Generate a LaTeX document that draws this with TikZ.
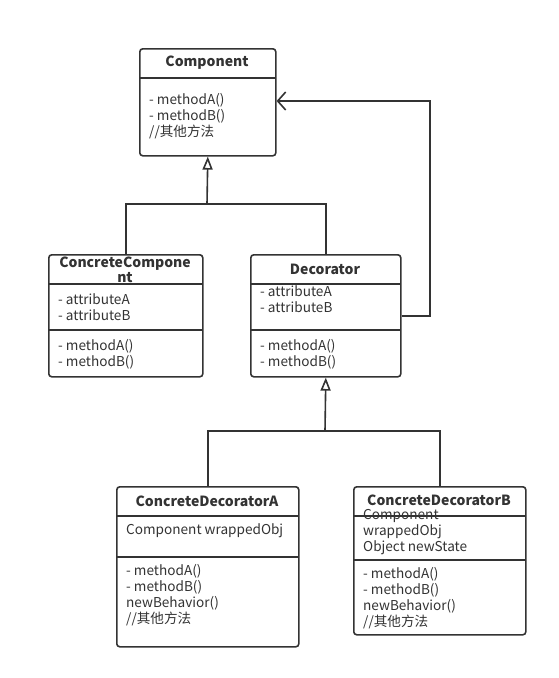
\documentclass[tikz,border=0pt]{standalone}
\usepackage{fontspec}
\setmainfont{Noto Sans CJK SC}
\usetikzlibrary{arrows.meta}
\definecolor{ln}{HTML}{333333}
\begin{document}
\begin{tikzpicture}[x=1pt,y=-1pt,
  umlbox/.style={draw=ln, line width=1.6pt, rounded corners=3pt, inner sep=0pt, anchor=north west},
  divider/.style={draw=ln, line width=1.6pt},
  conn/.style={draw=ln, line width=1.6pt},
  hdr/.style={font=\fontsize{14}{15}\selectfont\bfseries, text=ln, inner sep=0pt, align=center},
  txt/.style={font=\fontsize{13.6}{16}\selectfont, text=ln, inner sep=0pt, anchor=west, align=left},
  inh/.style={conn, -{Triangle[open, length=13pt, width=10pt, line width=1.6pt]}},
  assoc/.style={conn, -{Straight Barb[length=8pt, width=18pt, line width=1.6pt]}}
]
\path[use as bounding box] (0,0) rectangle (558,678);
\fill[white] (0,0) rectangle (558,678);

% Component
\node[umlbox, minimum width=136pt, minimum height=107pt] (comp) at (139,48) {};
\draw[divider] (139,78) -- (275,78);
\node[hdr] (compT) at (207,63) {Component};
\node[txt] (compM) at (149,116) {- methodA()\\- methodB()\\//其他方法};

% ConcreteComponent
\node[umlbox, minimum width=154pt, minimum height=122pt] (cc) at (48,254) {};
\draw[divider] (48,284) -- (202,284);
\draw[divider] (48,330) -- (202,330);
\node[hdr] (ccT) at (125,269.5) {ConcreteCompone\\nt};
\node[txt] (ccA) at (58,307) {- attributeA\\- attributeB};
\node[txt] (ccM) at (58,354) {- methodA()\\- methodB()};

% Decorator
\node[umlbox, minimum width=150pt, minimum height=122pt] (dec) at (250,254) {};
\draw[divider] (250,284) -- (400,284);
\draw[divider] (250,330) -- (400,330);
\node[hdr] (decT) at (325,269) {Decorator};
\node[txt] (decA) at (260,299.5) {- attributeA\\- attributeB};
\node[txt] (decM) at (260,354) {- methodA()\\- methodB()};

% ConcreteDecoratorA
\node[umlbox, minimum width=182pt, minimum height=160pt] (cda) at (116,486) {};
\draw[divider] (116,516) -- (298,516);
\draw[divider] (116,557) -- (298,557);
\node[hdr] (cdaT) at (207,501) {ConcreteDecoratorA};
\node[txt] (cdaA) at (126,531) {Component wrappedObj};
\node[txt] (cdaM) at (126,595) {- methodA()\\- methodB()\\newBehavior()\\//其他方法};

% ConcreteDecoratorB
\node[umlbox, minimum width=172pt, minimum height=148pt] (cdb) at (353,486) {};
\draw[divider] (353,516) -- (525,516);
\draw[divider] (353,560) -- (525,560);
\node[hdr] (cdbT) at (439,500) {ConcreteDecoratorB};
\node[txt] (cdbA) at (363,532) {Component\\wrappedObj\\Object newState};
\node[txt] (cdbM) at (363,598) {- methodA()\\- methodB()\\newBehavior()\\//其他方法};

% inheritance to Component
\coordinate (j1) at (207,204);
\draw[conn] (cc.north) -- (cc.north |- j1) -- (dec.north |- j1) -- (dec.north);
\draw[inh] (j1) -- (comp.south);

% inheritance to Decorator
\coordinate (j2) at (325,431);
\draw[conn] (cda.north) -- (cda.north |- j2) -- (cdb.north |- j2) -- (cdb.north);
\draw[inh] (j2) -- (dec.south);

% aggregation Decorator -> Component
\coordinate (a1) at (430,316);
\coordinate (a2) at (430,101);
\draw[assoc] (dec.east |- a1) -- (a1) -- (a2) -- (comp.east |- a2);
\end{tikzpicture}
\end{document}
